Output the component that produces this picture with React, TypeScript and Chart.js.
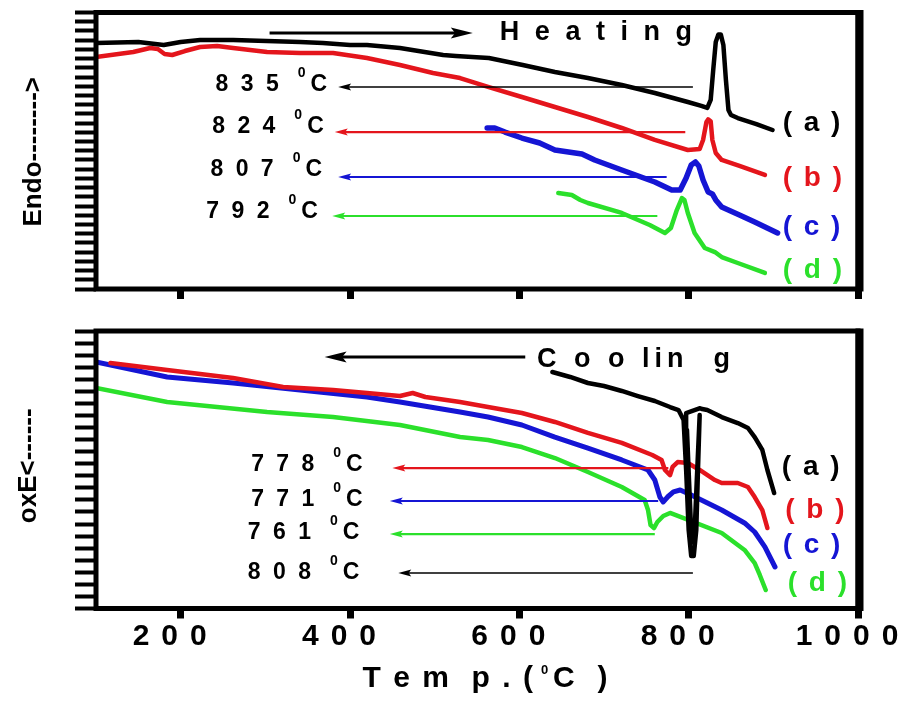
import React, { useEffect, useRef } from 'react';
import { Chart, registerables } from 'chart.js';

Chart.register(...registerables);

const FONT = "'Liberation Sans', Arial, Helvetica, sans-serif";
const COLORS = ['#000000', '#e4151c', '#1515d4', '#2be02b'];

// ---------- axes ----------
const X_MIN = 100;
const X_MAX = 1000;
const X_MAJOR_STEP = 200;
const X_MINOR_STEP = 100;
const HEAT_Y_MAX = 30;
const COOL_Y_MAX = 23;

// ---------- Heating (top panel) ----------
const heatA_T = [100, 150, 180, 200, 223, 262, 341, 368, 400, 420, 459, 510, 525, 564, 604, 642, 681, 721, 760, 799, 815, 822, 826, 829, 832, 835, 838, 841, 844, 847, 850, 858, 880, 899];
const heatA_Y = [26.69, 26.8, 26.47, 26.8, 27.02, 27.02, 26.8, 26.69, 26.47, 26.47, 26.15, 25.39, 25.28, 25.06, 24.3, 23.54, 22.89, 22.13, 21.27, 20.29, 19.86, 19.64, 20.51, 23.76, 26.8, 27.6, 27.6, 26.47, 22.68, 19.42, 18.88, 18.55, 17.9, 17.25];
const heatB_T = [100, 144, 164, 173, 181, 190, 205, 223, 243, 262, 302, 341, 380, 420, 459, 498, 530, 563, 603, 642, 681, 721, 760, 799, 813, 817, 821, 823, 826, 828, 832, 839, 860, 890];
const heatB_Y = [25.17, 25.71, 26.15, 26.04, 25.5, 25.39, 25.82, 26.26, 26.37, 26.15, 25.71, 25.61, 25.61, 25.06, 24.3, 23.44, 22.89, 21.92, 20.83, 19.75, 18.66, 17.47, 16.17, 15.08, 15.19, 16.17, 18.12, 18.4, 18.2, 16.17, 14.76, 14.0, 13.35, 12.37];
const heatC_T = [562, 571, 583, 603, 624, 642, 666, 674, 689, 721, 760, 780, 790, 797, 803, 808, 812, 817, 823, 828, 832, 839, 860, 878, 905];
const heatC_Y = [17.47, 17.47, 17.03, 16.38, 15.84, 15.08, 14.76, 14.65, 14.0, 12.91, 11.61, 10.74, 10.74, 12.04, 13.45, 13.78, 13.35, 11.83, 10.52, 10.31, 9.66, 8.9, 8.03, 7.27, 6.08];
const heatD_T = [646, 662, 672, 681, 721, 754, 772, 779, 786, 792, 795, 799, 807, 819, 831, 839, 858, 890];
const heatD_Y = [10.42, 10.2, 9.66, 9.33, 8.25, 6.94, 6.08, 6.62, 8.57, 9.87, 9.66, 8.25, 6.08, 4.45, 4.01, 3.47, 2.82, 1.74];

const heatDirText = 'H e a t i n g';
const heatDirFromT = 305;
const heatDirToT = 545;
const heatDirY = 27.78;
const heatDirTextT = 577;
const heatLabels = ['8 3 5', '8 2 4', '8 0 7', '7 9 2'];
const heatLabelColor = [0, 1, 2, 3];
const heatLabelEndT = [373, 369, 367, 362];
const heatLabelY = [22.13, 17.58, 12.91, 8.35];
const heatLineFromT = [805, 796, 774, 763];
const heatLineToT = [386, 382, 386, 379];
const heatLineY = [21.92, 17.03, 12.15, 7.92];
const heatNameT = [911, 911, 911, 911];
const heatNameY = [18.01, 12.04, 6.73, 2.06];

// ---------- Cooling (bottom panel) ----------
// the (a) trace runs down and up the sharp 808 °C dip more than once, so the dip reads as a solid wedge
const coolA_T = [639, 660, 681, 700, 721, 740, 760, 778, 788, 794, 797, 800, 803, 806, 809, 811, 813, 809.5, 806.5, 803.5, 800.5, 798, 797, 813.5, 816, 822, 839, 858, 870, 878, 887, 893, 901];
const coolA_Y = [19.6, 19.19, 18.69, 18.44, 18.03, 17.61, 17.2, 16.7, 16.45, 15.62, 11.48, 6.5, 4.35, 4.35, 6.5, 11.48, 16.04, 10.5, 5.5, 5.5, 10.5, 14.8, 16.2, 16.6, 16.53, 16.45, 15.87, 15.37, 14.96, 14.21, 13.14, 11.48, 9.57];
const coolB_T = [117, 184, 262, 321, 380, 420, 459, 474, 489, 530, 563, 603, 642, 681, 721, 757, 768, 772, 778, 781, 787, 799, 813, 831, 839, 858, 870, 878, 887, 893];
const coolB_Y = [20.35, 19.77, 19.1, 18.36, 18.11, 17.86, 17.61, 17.86, 17.53, 17.11, 16.7, 16.2, 15.46, 14.55, 13.72, 12.72, 12.31, 11.48, 11.06, 11.73, 12.14, 12.06, 11.48, 10.65, 10.4, 10.4, 10.07, 9.24, 8.16, 6.67];
const coolC_T = [100, 184, 262, 341, 420, 459, 530, 563, 603, 642, 681, 721, 752, 760, 766, 770, 775, 782, 790, 803, 839, 866, 878, 890, 902];
const coolC_Y = [20.43, 19.19, 18.69, 18.11, 17.53, 17.11, 16.29, 15.87, 15.21, 14.21, 13.3, 12.31, 11.48, 10.65, 9.24, 8.83, 9.24, 9.66, 9.82, 9.41, 8.16, 7.09, 6.34, 5.1, 3.44];
const coolD_T = [100, 184, 302, 380, 459, 530, 563, 603, 642, 681, 721, 748, 752, 755, 759, 763, 770, 778, 791, 839, 866, 878, 884, 891];
const coolD_Y = [18.27, 17.11, 16.29, 15.87, 15.21, 14.21, 13.97, 13.38, 12.47, 11.31, 10.07, 8.99, 8.16, 6.92, 6.67, 7.17, 7.67, 7.92, 7.58, 6.26, 4.85, 3.77, 2.78, 1.53];

const coolDirText = 'C o o lin  g';
const coolDirFromT = 607;
const coolDirToT = 370;
const coolDirY = 20.84;
const coolDirTextT = 621;
const coolDirTextY = 20.6;
const coolLabels = ['7 7 8', '7 7 1', '7 6 1', '8 0 8'];
const coolLabelColor = [1, 2, 3, 0];
const coolLabelEndT = [415, 415, 411, 411];
const coolLabelY = [11.89, 8.99, 6.26, 2.94];
const coolLineFromT = [776, 764, 760, 805];
const coolLineToT = [450, 447, 447, 457];
const coolLineY = [11.64, 8.91, 6.17, 2.94];
const coolNameT = [910, 914, 911, 917];
const coolNameY = [11.73, 8.16, 5.26, 2.11];

const curveNames = ['( a )', '( b )', '( c )', '( d )'];

const serie = (T: number[], Y: number[]) => T.map((t, i) => ({ x: t, y: Y[i] }));

function setLs(ctx: any, v: number) {
  try { ctx.letterSpacing = v + 'px'; } catch (e) { /* ignore */ }
}

function drawText(ctx: any, s: string, x: number, y: number, font: string, color: string, ls: number, align: CanvasTextAlign = 'left') {
  ctx.font = font;
  ctx.fillStyle = color;
  setLs(ctx, ls);
  ctx.textAlign = align;
  ctx.textBaseline = 'middle';
  ctx.fillText(s, x, y);
}

function measure(ctx: any, s: string, font: string, ls: number) {
  ctx.font = font;
  setLs(ctx, ls);
  return ctx.measureText(s).width;
}

function drawArrow(ctx: any, xTail: number, y: number, xHead: number, color: string, lw: number, headLen: number, headHalf: number) {
  const dir = Math.sign(xHead - xTail);
  ctx.strokeStyle = color;
  ctx.fillStyle = color;
  ctx.lineWidth = lw;
  ctx.lineCap = 'butt';
  ctx.beginPath();
  ctx.moveTo(xTail, y);
  ctx.lineTo(xHead - dir * headLen * 0.7, y);
  ctx.stroke();
  ctx.beginPath();
  ctx.moveTo(xHead, y);
  ctx.lineTo(xHead - dir * headLen, y - headHalf);
  ctx.lineTo(xHead - dir * headLen * 0.8, y);
  ctx.lineTo(xHead - dir * headLen, y + headHalf);
  ctx.closePath();
  ctx.fill();
}

function drawDegLabel(ctx: any, xRight: number, y: number, digits: string) {
  const big = `bold 23px ${FONT}`;
  const small = `bold 14px ${FONT}`;
  const wC = measure(ctx, 'C', big, 0);
  drawText(ctx, 'C', xRight - wC, y, big, '#000', 0);
  const wS = measure(ctx, '0', small, 0);
  const supX = xRight - wC - 5 - wS;
  drawText(ctx, '0', supX, y - 12, small, '#000', 0);
  const wD = measure(ctx, digits, big, 3);
  drawText(ctx, digits, supX - 16 - wD, y, big, '#000', 3);
}

type Spec = {
  yMax: number;
  showLabels: boolean;
  xHeight: number;
  padTop: number;
  series: { T: number[]; Y: number[]; w: number }[];
  dirText: string; dirFrom: number; dirTo: number; dirY: number; dirTextT: number; dirTextY: number;
  labels: string[]; labelColor: number[]; labelEndT: number[]; labelY: number[];
  lineFrom: number[]; lineTo: number[]; lineY: number[];
  nameT: number[]; nameY: number[];
  yTitle: string; yTitleX: number; yTitleDy: number;
  xTitle: boolean;
};

function drawPanel(chart: any, spec: Spec) {
  const { ctx, chartArea: ca, scales } = chart;
  const px = (t: number) => scales.x.getPixelForValue(t);
  const py = (v: number) => scales.y.getPixelForValue(v);
  ctx.save();
  setLs(ctx, 0);
  // frame
  ctx.strokeStyle = '#000';
  ctx.lineWidth = 5;
  ctx.strokeRect(ca.left, ca.top, ca.right - ca.left, ca.bottom - ca.top);
  ctx.lineWidth = 8;
  ctx.beginPath();
  ctx.moveTo(ca.right + 1.5, ca.top - 2.5);
  ctx.lineTo(ca.right + 1.5, ca.bottom + 2.5);
  ctx.stroke();

  // direction arrow + text
  drawArrow(ctx, px(spec.dirFrom), py(spec.dirY), px(spec.dirTo), '#000', 3, 22, 5.5);
  const dirFont = `bold 27px ${FONT}`;
  drawText(ctx, spec.dirText, px(spec.dirTextT), py(spec.dirTextY), dirFont, '#000', spec.dirText.startsWith('H') ? 4 : 5);

  // annotation arrows
  spec.lineFrom.forEach((t0, i) => {
    const c = spec.labelColor[i];
    drawArrow(ctx, px(t0), py(spec.lineY[i]), px(spec.lineTo[i]), COLORS[c], c === 0 ? 1.6 : 2.2, 13, 3.5);
  });
  // temperature labels
  spec.labels.forEach((s, i) => drawDegLabel(ctx, px(spec.labelEndT[i]), py(spec.labelY[i]), s));
  // curve names
  curveNames.forEach((s, i) => drawText(ctx, s, px(spec.nameT[i]), py(spec.nameY[i]), `bold 28px ${FONT}`, COLORS[i], 2));

  // y title
  ctx.save();
  ctx.translate(spec.yTitleX, (ca.top + ca.bottom) / 2 + spec.yTitleDy);
  ctx.rotate(-Math.PI / 2);
  drawText(ctx, spec.yTitle, 0, 0, `bold 26px ${FONT}`, '#000', 0, 'center');
  ctx.restore();

  // x title
  if (spec.xTitle) {
    const big = `bold 30px ${FONT}`;
    const small = `bold 13px ${FONT}`;
    const p1 = 'T e m  p . (';
    const p3 = 'C  )';
    const w1 = measure(ctx, p1, big, 2);
    const w2 = measure(ctx, '0', small, 0);
    const w3 = measure(ctx, p3, big, 2);
    const total = w1 + 6 + w2 + 5 + w3;
    const cx = (ca.left + ca.right) / 2 + 9;
    const y = ca.bottom + 70;
    let x = cx - total / 2;
    drawText(ctx, p1, x, y, big, '#000', 2);
    x += w1 + 6;
    drawText(ctx, '0', x, y - 8, small, '#000', 0);
    x += w2 + 5;
    drawText(ctx, p3, x, y, big, '#000', 2);
  }
  setLs(ctx, 0);
  ctx.restore();
}

function makeConfig(spec: Spec): any {
  return {
    type: 'line',
    data: {
      datasets: spec.series.map((s, i) => ({
        data: serie(s.T, s.Y),
        borderColor: COLORS[i],
        backgroundColor: COLORS[i],
        borderWidth: s.w,
        pointRadius: 0,
        fill: false,
        tension: 0,
        borderJoinStyle: 'round',
        borderCapStyle: 'round',
        xAxisID: 'x',
        yAxisID: 'y',
      })),
    },
    options: {
      responsive: false,
      animation: false,
      events: [],
      layout: { padding: { left: 0, right: 57, top: spec.padTop, bottom: 0 } },
      plugins: { legend: { display: false }, tooltip: { enabled: false }, title: { display: false } },
      scales: {
        x: {
          type: 'linear',
          position: 'bottom',
          min: X_MIN,
          max: X_MAX,
          afterFit: (s: any) => { s.height = spec.xHeight; },
          ticks: {
            stepSize: X_MAJOR_STEP,
            includeBounds: false,
            display: spec.showLabels,
            autoSkip: false,
            maxRotation: 0,
            padding: 0,
            labelOffset: -5,
            color: '#000',
            font: { family: FONT, size: 30, weight: 'bold', lineHeight: 1.2 },
            callback: (v: number) => String(v),
          },
          grid: { drawOnChartArea: false, drawTicks: true, tickLength: 10, tickWidth: 7, tickColor: '#000', color: '#000' },
          border: { display: false },
        },
        xMinor: {
          type: 'linear',
          position: 'bottom',
          min: X_MIN,
          max: X_MAX,
          afterFit: (s: any) => { s.height = 0; },
          ticks: { stepSize: X_MINOR_STEP, display: false },
          grid: { drawOnChartArea: false, drawTicks: true, tickLength: 6, tickWidth: 6, tickColor: '#000', color: '#000' },
          border: { display: false },
        },
        y: {
          type: 'linear',
          position: 'left',
          min: 0,
          max: spec.yMax,
          afterFit: (s: any) => { s.width = 96; },
          ticks: { stepSize: 1, display: false },
          grid: { drawOnChartArea: false, drawTicks: true, tickLength: 21, tickWidth: 4, tickColor: '#000', color: '#000' },
          border: { display: false },
        },
      },
    },
    plugins: [
      {
        id: 'panelDecor',
        beforeDraw: (chart: any) => { setLs(chart.ctx, spec.showLabels ? 12 : 0); },
        afterDraw: (chart: any) => drawPanel(chart, spec),
      },
    ],
  };
}

const heatSpec: Spec = {
  yMax: HEAT_Y_MAX,
  showLabels: false,
  xHeight: 11,
  padTop: 12.5,
  series: [
    { T: heatA_T, Y: heatA_Y, w: 4.5 },
    { T: heatB_T, Y: heatB_Y, w: 4.5 },
    { T: heatC_T, Y: heatC_Y, w: 5.5 },
    { T: heatD_T, Y: heatD_Y, w: 4.5 },
  ],
  dirText: heatDirText, dirFrom: heatDirFromT, dirTo: heatDirToT, dirY: heatDirY, dirTextT: heatDirTextT, dirTextY: heatDirY,
  labels: heatLabels, labelColor: heatLabelColor, labelEndT: heatLabelEndT, labelY: heatLabelY,
  lineFrom: heatLineFromT, lineTo: heatLineToT, lineY: heatLineY,
  nameT: heatNameT, nameY: heatNameY,
  yTitle: 'Endo-------->', yTitleX: 34, yTitleDy: 1,
  xTitle: false,
};

const coolSpec: Spec = {
  yMax: COOL_Y_MAX,
  showLabels: true,
  xHeight: 96.5,
  padTop: 31,
  series: [
    { T: coolA_T, Y: coolA_Y, w: 4.5 },
    { T: coolB_T, Y: coolB_Y, w: 4.5 },
    { T: coolC_T, Y: coolC_Y, w: 5 },
    { T: coolD_T, Y: coolD_Y, w: 4.5 },
  ],
  dirText: coolDirText, dirFrom: coolDirFromT, dirTo: coolDirToT, dirY: coolDirY, dirTextT: coolDirTextT, dirTextY: coolDirTextY,
  labels: coolLabels, labelColor: coolLabelColor, labelEndT: coolLabelEndT, labelY: coolLabelY,
  lineFrom: coolLineFromT, lineTo: coolLineToT, lineY: coolLineY,
  nameT: coolNameT, nameY: coolNameY,
  yTitle: 'oxE<------', yTitleX: 29, yTitleDy: -4,
  xTitle: true,
};

export default function App() {
  const topRef = useRef<HTMLCanvasElement>(null);
  const botRef = useRef<HTMLCanvasElement>(null);
  useEffect(() => {
    const c1 = new Chart(topRef.current as HTMLCanvasElement, makeConfig(heatSpec));
    const c2 = new Chart(botRef.current as HTMLCanvasElement, makeConfig(coolSpec));
    return () => {
      c1.destroy();
      c2.destroy();
    };
  }, []);
  return (
    <div style={{ position: 'absolute', left: 0, top: 0, width: 915, height: 705, background: '#fff' }}>
      <canvas ref={topRef} width={915} height={300} style={{ position: 'absolute', left: 0, top: 0, width: 915, height: 300 }} />
      <canvas ref={botRef} width={915} height={405} style={{ position: 'absolute', left: 0, top: 300, width: 915, height: 405 }} />
    </div>
  );
}
